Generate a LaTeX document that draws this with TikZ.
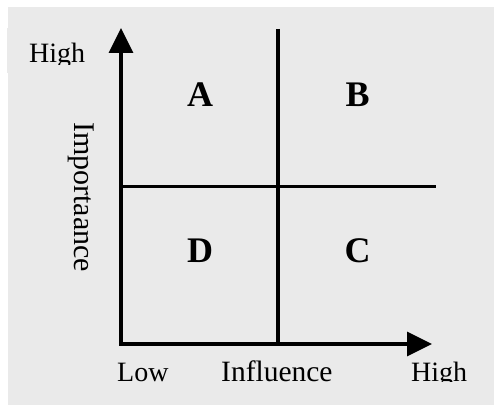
\documentclass[tikz,border=0pt]{standalone}
\usepackage{fontspec}
\setmainfont{Liberation Serif}
\usetikzlibrary{arrows.meta}
\definecolor{bgray}{RGB}{234,234,234}
\begin{document}
\begin{tikzpicture}[x=1pt,y=-1pt,
  axis/.style={line width=3.3pt, line join=miter},
  quad/.style={font=\fontsize{36}{40}\selectfont\bfseries, inner sep=0pt},
  lbl/.style={font=\fontsize{28}{30}\selectfont, inner sep=0pt, anchor=base west}]
\useasboundingbox (0,0) rectangle (494,406);
\fill[bgray] (8,7) rectangle (494,405);
\fill[bgray] (6.7,28) rectangle (60,73);
\coordinate (ytop) at (121,28);
\coordinate (origin) at (121,344);
\coordinate (xend) at (432,344);
\coordinate (vtop) at (278,29);
\coordinate (vbot) at (278,344);
\coordinate (hleft) at (121,186.5);
\coordinate (hright) at (436,186.5);
\draw[axis] (vtop) -- (vbot);
\draw[axis] (hleft) -- (hright);
\draw[axis, {Triangle[length=25pt,width=24pt]}-{Triangle[length=25pt,width=24pt]}] (ytop) -- (origin) -- (xend);
\node[quad] (qa) at (200,95) {A};
\node[quad] (qb) at (357.5,95) {B};
\node[quad] (qd) at (200,251) {D};
\node[quad] (qc) at (357.5,251) {C};
\node[font=\fontsize{30}{32}\selectfont, inner sep=0pt, rotate=-90, anchor=base west] (imp) at (74.4,122) {Importaance};
\begin{scope}
\clip (0,0) rectangle (494,65);
\node[lbl] (yhigh) at (29,63) {High};
\end{scope}
\begin{scope}
\clip (0,0) rectangle (494,381);
\node[lbl] (xlow) at (117,381) {Low};
\node[lbl, font=\fontsize{29.5}{31}\selectfont] (infl) at (221,381) {Influence};
\node[lbl] (xhigh) at (411,381) {High};
\end{scope}
\end{tikzpicture}
\end{document}
